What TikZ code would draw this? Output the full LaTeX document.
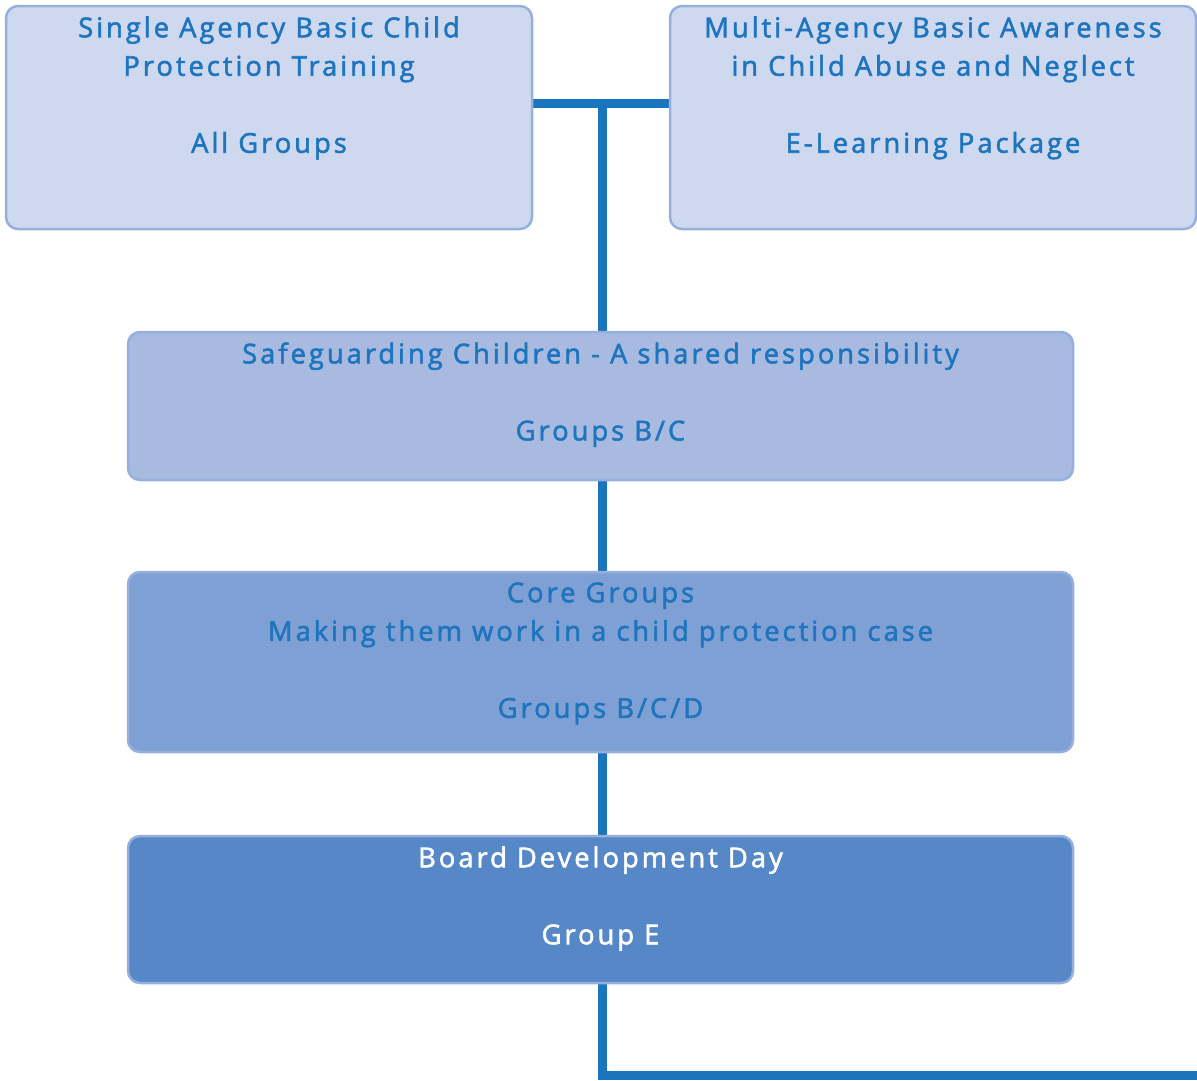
\documentclass[tikz,border=0pt]{standalone}
\usepackage{fontspec}
\setmainfont{Open Sans}[LetterSpace=11, FakeBold=2]
\usetikzlibrary{backgrounds}
\definecolor{fillA}{HTML}{CED9F0}
\definecolor{fillB}{HTML}{A8BAE0}
\definecolor{fillC}{HTML}{7FA0D4}
\definecolor{fillD}{HTML}{5688C8}
\definecolor{edgeC}{HTML}{96AFDD}
\definecolor{txtC}{HTML}{1E74BD}
\definecolor{lineC}{HTML}{1B75BC}
\tikzset{
  box/.style={draw=edgeC, line width=2.5pt, rounded corners=12pt, inner sep=0pt},
  lbl/.style={anchor=north, inner sep=0pt, align=center, text=txtC,
    font=\fontsize{27.3}{38.5}\selectfont},
  conn/.style={draw=lineC, line width=9pt}
}
\begin{document}
\begin{tikzpicture}[x=1pt,y=1pt]
\useasboundingbox (0,0) rectangle (1197,-1080);
% boxes
\draw[box, fill=fillA] (6,-6) rectangle (532,-229);
\node[minimum width=526pt, minimum height=223pt, inner sep=0pt] (b1) at (269,-117.5) {};
\draw[box, fill=fillA] (670,-6) rectangle (1196,-229);
\node[minimum width=526pt, minimum height=223pt, inner sep=0pt] (b2) at (933,-117.5) {};
\draw[box, fill=fillB] (128,-332) rectangle (1073,-480);
\node[minimum width=945pt, minimum height=148pt, inner sep=0pt] (b3) at (600.5,-406) {};
\draw[box, fill=fillC] (128,-572) rectangle (1073,-752);
\node[minimum width=945pt, minimum height=180pt, inner sep=0pt] (b4) at (600.5,-662) {};
\draw[box, fill=fillD] (128,-836) rectangle (1073,-983);
\node[minimum width=945pt, minimum height=147pt, inner sep=0pt] (b5) at (600.5,-909.5) {};
% texts
\node[lbl] (t1) at ([yshift=-10.5pt]b1.north) {Single Agency Basic Child\\Protection Training\\[38.5pt]All Groups};
\node[lbl] (t2) at ([yshift=-10.5pt]b2.north) {Multi-Agency Basic Awareness\\in Child Abuse and Neglect\\[38.5pt]E-Learning Package};
\node[lbl] (t3) at ([yshift=-10.5pt]b3.north) {Safeguarding Children - A shared responsibility\\[38.5pt]Groups B/C};
\node[lbl] (t4) at ([yshift=-10.5pt]b4.north) {Core Groups\\Making them work in a child protection case\\[38.5pt]Groups B/C/D};
\node[lbl, text=white] (t5) at ([yshift=-10.5pt]b5.north) {Board Development Day\\[38.5pt]Group E};
% connectors
\coordinate (j) at (602,-103);
\coordinate (endp) at (1197,-1075.5);
\begin{scope}[on background layer]
\draw[conn] (b1.east |- j) -- (b2.west |- j);
\draw[conn] (j) |- (endp);
\end{scope}
\end{tikzpicture}
\end{document}
